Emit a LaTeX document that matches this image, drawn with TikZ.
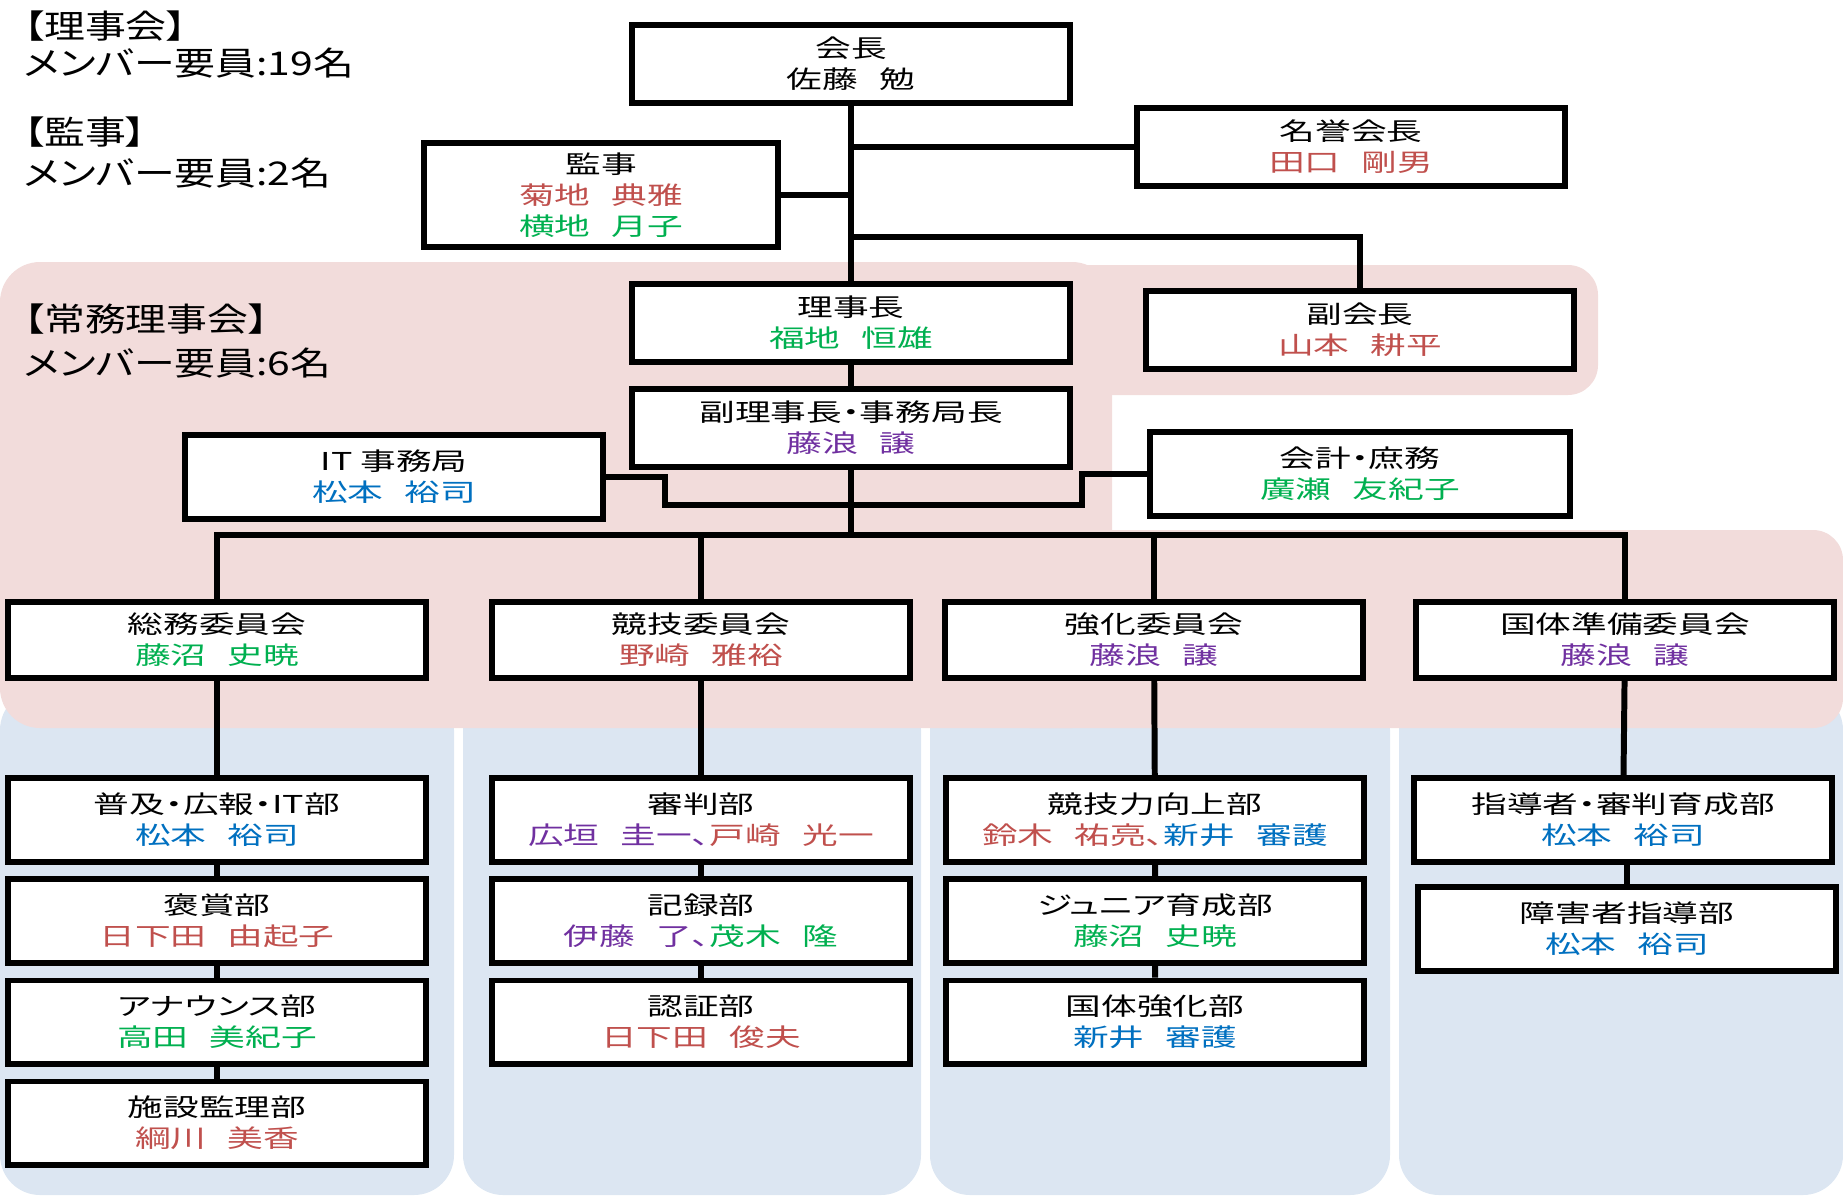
\documentclass[tikz,border=0pt]{standalone}
\usepackage{fontspec}
\usepackage{xcolor}
\usepackage{tikz}
\usetikzlibrary{positioning}
\setmainfont{Noto Sans CJK JP}
\newfontfamily\boxfont[FakeStretch=1.45,RawFeature={+palt}]{Noto Sans CJK JP}
\newfontfamily\labfont[FakeStretch=1.25,RawFeature={+palt}]{Noto Sans CJK JP}
\definecolor{kred}{HTML}{C0504D}
\definecolor{kgreen}{HTML}{00B050}
\definecolor{kpurple}{HTML}{7030A0}
\definecolor{kblue}{HTML}{0070C0}
\definecolor{jomupink}{HTML}{F2DCDB}
\definecolor{bublue}{HTML}{DCE6F2}
\newcommand{\boxlw}{1.7pt}
\newcommand{\namesp}{\hspace{6pt}}

\begin{document}
\begin{tikzpicture}[x=0.01cm, y=-0.01cm,
	orgbox/.style={draw, line width=\boxlw, fill=white, align=center, inner sep=0pt,
		font=\boxfont\fontsize{7}{8.8}\selectfont},
	bubox/.style={orgbox, minimum width=4.17cm, minimum height=0.83cm},
	lab/.style={anchor=west, inner sep=0pt, font=\labfont\fontsize{9.3}{11}\selectfont},
	link/.style={line width=\boxlw}]
	\useasboundingbox (0,0) rectangle (1843,1197);
	% The backgrounds:
	\fill[bublue, rounded corners=0.4cm]
		(0,690) rectangle (454,1195)
		(463,690) rectangle (921,1195)
		(930,690) rectangle (1390,1195)
		(1399,690) rectangle (1843,1195);
	\fill[jomupink, rounded corners=0.4cm] (0,262) rectangle (1112,728);
	\fill[jomupink, rounded corners=0.3cm]
		(1040,265) rectangle (1598,395)
		(1000,530) rectangle (1843,728);
	% Labels:
	\node[lab] (rijikai) at (23,26) {【理事会】};
	\node[lab] (rijikainum) at (23,63) {メンバー要員:19名};
	\node[lab] (kansalab) at (23,132) {【監事】};
	\node[lab] (kansanum) at (23,173) {メンバー要員:2名};
	\node[lab] (jomu) at (23,319) {【常務理事会】};
	\node[lab] (jomunum) at (23,363) {メンバー要員:6名};
	% Top boxes:
	\node[orgbox, minimum width=4.38cm, minimum height=0.78cm] (kaicho) at (851,64)
		{会長\\佐藤\namesp 勉};
	\node[orgbox, minimum width=4.28cm, minimum height=0.78cm] (meiyo) at (1351,147)
		{名誉会長\\\textcolor{kred}{田口\namesp 剛男}};
	\node[orgbox, minimum width=3.53cm, minimum height=1.03cm] (kansa) at (601,195)
		{監事\\\textcolor{kred}{菊地\namesp 典雅}\\\textcolor{kgreen}{横地\namesp 月子}};
	\node[orgbox, minimum width=4.38cm, minimum height=0.78cm] (rijicho) at (851,323)
		{理事長\\\textcolor{kgreen}{福地\namesp 恒雄}};
	\node[orgbox, minimum width=4.28cm, minimum height=0.78cm] (fukukaicho) at (1360,330)
		{副会長\\\textcolor{kred}{山本\namesp 耕平}};
	\node[orgbox, minimum width=4.38cm, minimum height=0.78cm] (fukuriji) at (851,428)
		{副理事長・事務局長\\\textcolor{kpurple}{藤浪\namesp 譲}};
	\node[orgbox, minimum width=4.18cm, minimum height=0.83cm] (itjim) at (394,477)
		{IT 事務局\\\textcolor{kblue}{松本\namesp 裕司}};
	\node[orgbox, minimum width=4.19cm, minimum height=0.84cm] (kaikei) at (1360,474)
		{会計・庶務\\\textcolor{kgreen}{廣瀬\namesp 友紀子}};
	% Committees:
	\node[orgbox, minimum width=4.18cm, minimum height=0.76cm] (soumu) at (217,640)
		{総務委員会\\\textcolor{kgreen}{藤沼\namesp 史暁}};
	\node[orgbox, minimum width=4.18cm, minimum height=0.76cm] (kyogi) at (701,640)
		{競技委員会\\\textcolor{kred}{野崎\namesp 雅裕}};
	\node[orgbox, minimum width=4.18cm, minimum height=0.76cm] (kyoka) at (1154,640)
		{強化委員会\\\textcolor{kpurple}{藤浪\namesp 譲}};
	\node[orgbox, minimum width=4.18cm, minimum height=0.76cm] (kokutai) at (1625,640)
		{国体準備委員会\\\textcolor{kpurple}{藤浪\namesp 譲}};
	% Departments:
	\node[bubox] (fukyu) at (217,820) {普及・広報・IT部\\\textcolor{kblue}{松本\namesp 裕司}};
	\node[bubox] (hosho) at (217,921) {褒賞部\\\textcolor{kred}{日下田\namesp 由起子}};
	\node[bubox] (announce) at (217,1022) {アナウンス部\\\textcolor{kgreen}{高田\namesp 美紀子}};
	\node[bubox] (shisetsu) at (217,1123) {施設監理部\\\textcolor{kred}{綱川\namesp 美香}};
	\node[bubox] (shinpan) at (701,820)
		{審判部\\\textcolor{kpurple}{広垣\namesp 圭一、}\textcolor{kred}{戸崎\namesp 光一}};
	\node[bubox] (kiroku) at (701,921)
		{記録部\\\textcolor{kpurple}{伊藤\namesp 了、}\textcolor{kgreen}{茂木\namesp 隆}};
	\node[bubox] (ninsho) at (701,1022) {認証部\\\textcolor{kred}{日下田\namesp 俊夫}};
	\node[bubox] (kyogiryoku) at (1155,820)
		{競技力向上部\\\textcolor{kred}{鈴木\namesp 祐亮、}\textcolor{kblue}{新井\namesp 審護}};
	\node[bubox] (junior) at (1155,921) {ジュニア育成部\\\textcolor{kgreen}{藤沼\namesp 史暁}};
	\node[bubox] (kokutaikyoka) at (1155,1022) {国体強化部\\\textcolor{kblue}{新井\namesp 審護}};
	\node[bubox] (shido) at (1623,820) {指導者・審判育成部\\\textcolor{kblue}{松本\namesp 裕司}};
	\node[bubox] (shogai) at (1627,929) {障害者指導部\\\textcolor{kblue}{松本\namesp 裕司}};
	% Lines:
	\coordinate (fkjoint) at (851,237);
	\coordinate (bus) at (851,535);
	\coordinate (jogL) at (665,505);
	\coordinate (jogR) at (1082,505);
	\draw[link] (kaicho) -- (rijicho);
	\draw[link] (meiyo.west) -- (meiyo.west -| kaicho.south);
	\draw[link] (kansa.east) -- (kansa.east -| kaicho.south);
	\draw[link] (fukukaicho.north) |- (fkjoint);
	\draw[link] (rijicho) -- (fukuriji);
	\draw[link] (fukuriji.south) -- (bus);
	\draw[link] (itjim.east) -| (jogL) -- (jogR) |- (kaikei.west);
	\draw[link] (soumu.north) |- (bus) -| (kokutai.north);
	\draw[link] (kyogi.north) -- (kyogi.north |- bus);
	\draw[link] (kyoka.north) -- (kyoka.north |- bus);
	\draw[link] (soumu) -- (fukyu) -- (hosho) -- (announce) -- (shisetsu);
	\draw[link] (kyogi) -- (shinpan) -- (kiroku) -- (ninsho);
	\draw[link] (kyoka) -- (kyogiryoku) -- (junior) -- (kokutaikyoka);
	\draw[link] (kokutai) -- (shido);
	\draw[link] (shogai.north) -- (shogai.north |- shido.south);
\end{tikzpicture}
\end{document}
